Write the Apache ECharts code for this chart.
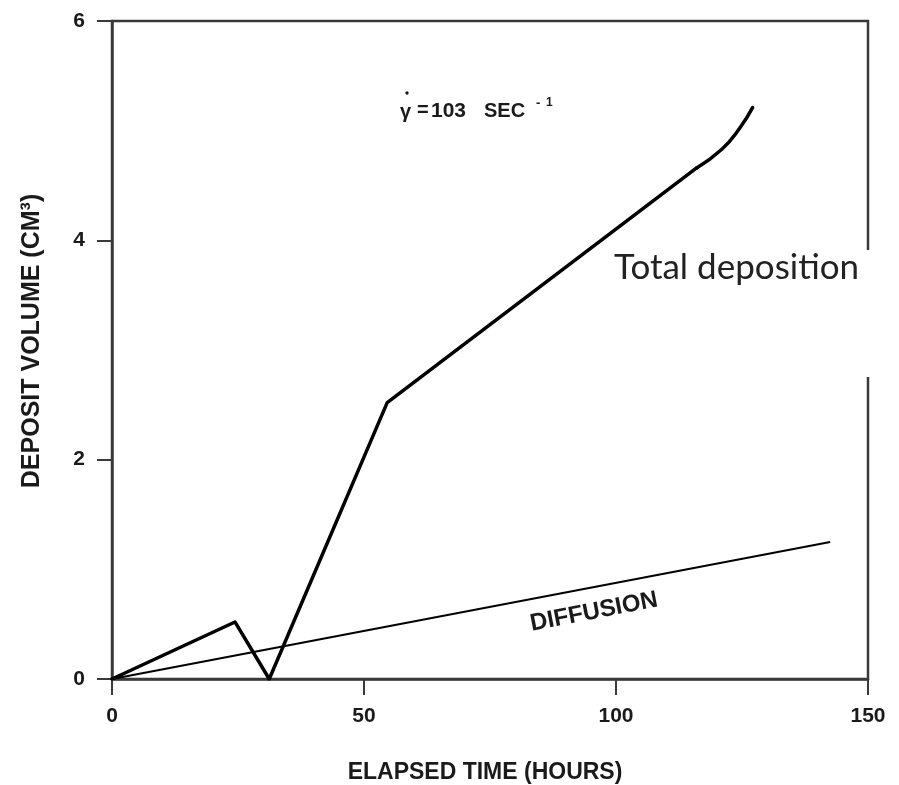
<!DOCTYPE html>
<html><head><meta charset="utf-8">
<script src="https://cdn.jsdelivr.net/npm/echarts@6/dist/echarts.min.js"></script>
<style>html,body{margin:0;padding:0;background:#fff}#c{width:899px;height:785px}</style>
</head><body><div id="c"></div>
<script>
// Elapsed time (hours) and deposit volume (cm^3)
const totalHours  = [0, 24.4, 31.2, 54.6, 116, 121, 124.5, 127.1];
const totalVolume = [0, 0.52, 0.0, 2.52, 4.66, 4.83, 5.02, 5.21];
const diffHours   = [0, 142.5];
const diffVolume  = [0, 1.25];
const xTicks = [0, 50, 100, 150];
const yTicks = [0, 2, 4, 6];

const totalPts = totalHours.map((h,i)=>[h,totalVolume[i]]);
const chart = echarts.init(document.getElementById('c'));
const G = {left:112, top:21, right:31, bottom:106};
const ink = '#1a1a1a';
const lab = {margin:27, color:ink, fontFamily:'Liberation Sans, Arial', fontWeight:'bold', fontSize:21};
const F = s => 'bold ' + s + 'px "Liberation Sans", Arial';
chart.setOption({
  animation:false,
  grid:{left:G.left, top:G.top, right:G.right, bottom:G.bottom, show:true, borderColor:'#3a3a3a', borderWidth:2.5, backgroundColor:'transparent'},
  xAxis:{type:'value', min:xTicks[0], max:xTicks[xTicks.length-1], interval:50,
    axisLine:{show:true, lineStyle:{color:'#3a3a3a', width:2.5}},
    axisTick:{show:true, inside:false, length:16, lineStyle:{color:'#3a3a3a', width:2}},
    splitLine:{show:false}, axisLabel:lab},
  yAxis:{type:'value', min:yTicks[0], max:yTicks[yTicks.length-1], interval:2,
    axisLine:{show:true, lineStyle:{color:'#3a3a3a', width:2.5}},
    axisTick:{show:true, inside:false, length:15, lineStyle:{color:'#3a3a3a', width:2}},
    splitLine:{show:false}, axisLabel:lab},
  series:[
    {type:'line', data:totalPts.slice(0,5), symbol:'none',
      lineStyle:{color:'#000', width:3.5, join:'round', cap:'round'}, z:3},
    {type:'line', data:totalPts.slice(4), symbol:'none', smooth:0.5,
      lineStyle:{color:'#000', width:3.5, join:'round', cap:'round'}, z:3},
    {type:'line', data:diffHours.map((h,i)=>[h,diffVolume[i]]), symbol:'none',
      lineStyle:{color:'#000', width:2}, z:2}
  ],
  graphic:[
    {type:'rect', z:100, shape:{x:606, y:250, width:268, height:127}, style:{fill:'#fff'}},
    {type:'text', z:101, left:614, top:250, style:{text:'Total deposition', font:'35px Lato, "Open Sans", sans-serif', fill:'#222'}},
    {type:'text', z:101, x:400, y:112, style:{text:'γ', font:F(20), fill:ink, verticalAlign:'middle'}},
    {type:'circle', z:101, shape:{cx:407, cy:93, r:1.7}, style:{fill:ink}},
    {type:'text', z:101, x:417, y:110, style:{text:'=', font:F(20), fill:ink, verticalAlign:'middle'}},
    {type:'text', z:101, x:431, y:111, style:{text:'103', font:F(21), fill:ink, verticalAlign:'middle'}},
    {type:'text', z:101, x:484, y:111, style:{text:'SEC', font:F(20), fill:ink, verticalAlign:'middle'}},
    {type:'text', z:101, x:536, y:103, style:{text:'-', font:F(13), fill:ink, verticalAlign:'middle'}},
    {type:'text', z:101, x:546, y:103, style:{text:'1', font:F(12), fill:ink, verticalAlign:'middle'}},
    {type:'text', z:101, x:594, y:612, rotation:11*Math.PI/180,
      style:{text:'DIFFUSION', font:F(24), fill:ink, align:'center', verticalAlign:'middle'}},
    {type:'text', z:101, x:485, y:773,
      style:{text:'ELAPSED TIME (HOURS)', font:F(23), fill:ink, align:'center', verticalAlign:'middle'}},
    {type:'text', z:101, x:32, y:341, rotation:Math.PI/2,
      style:{text:'DEPOSIT VOLUME (CM³)', font:F(25), fill:ink, align:'center', verticalAlign:'middle'}}
  ]
});
</script></body></html>
